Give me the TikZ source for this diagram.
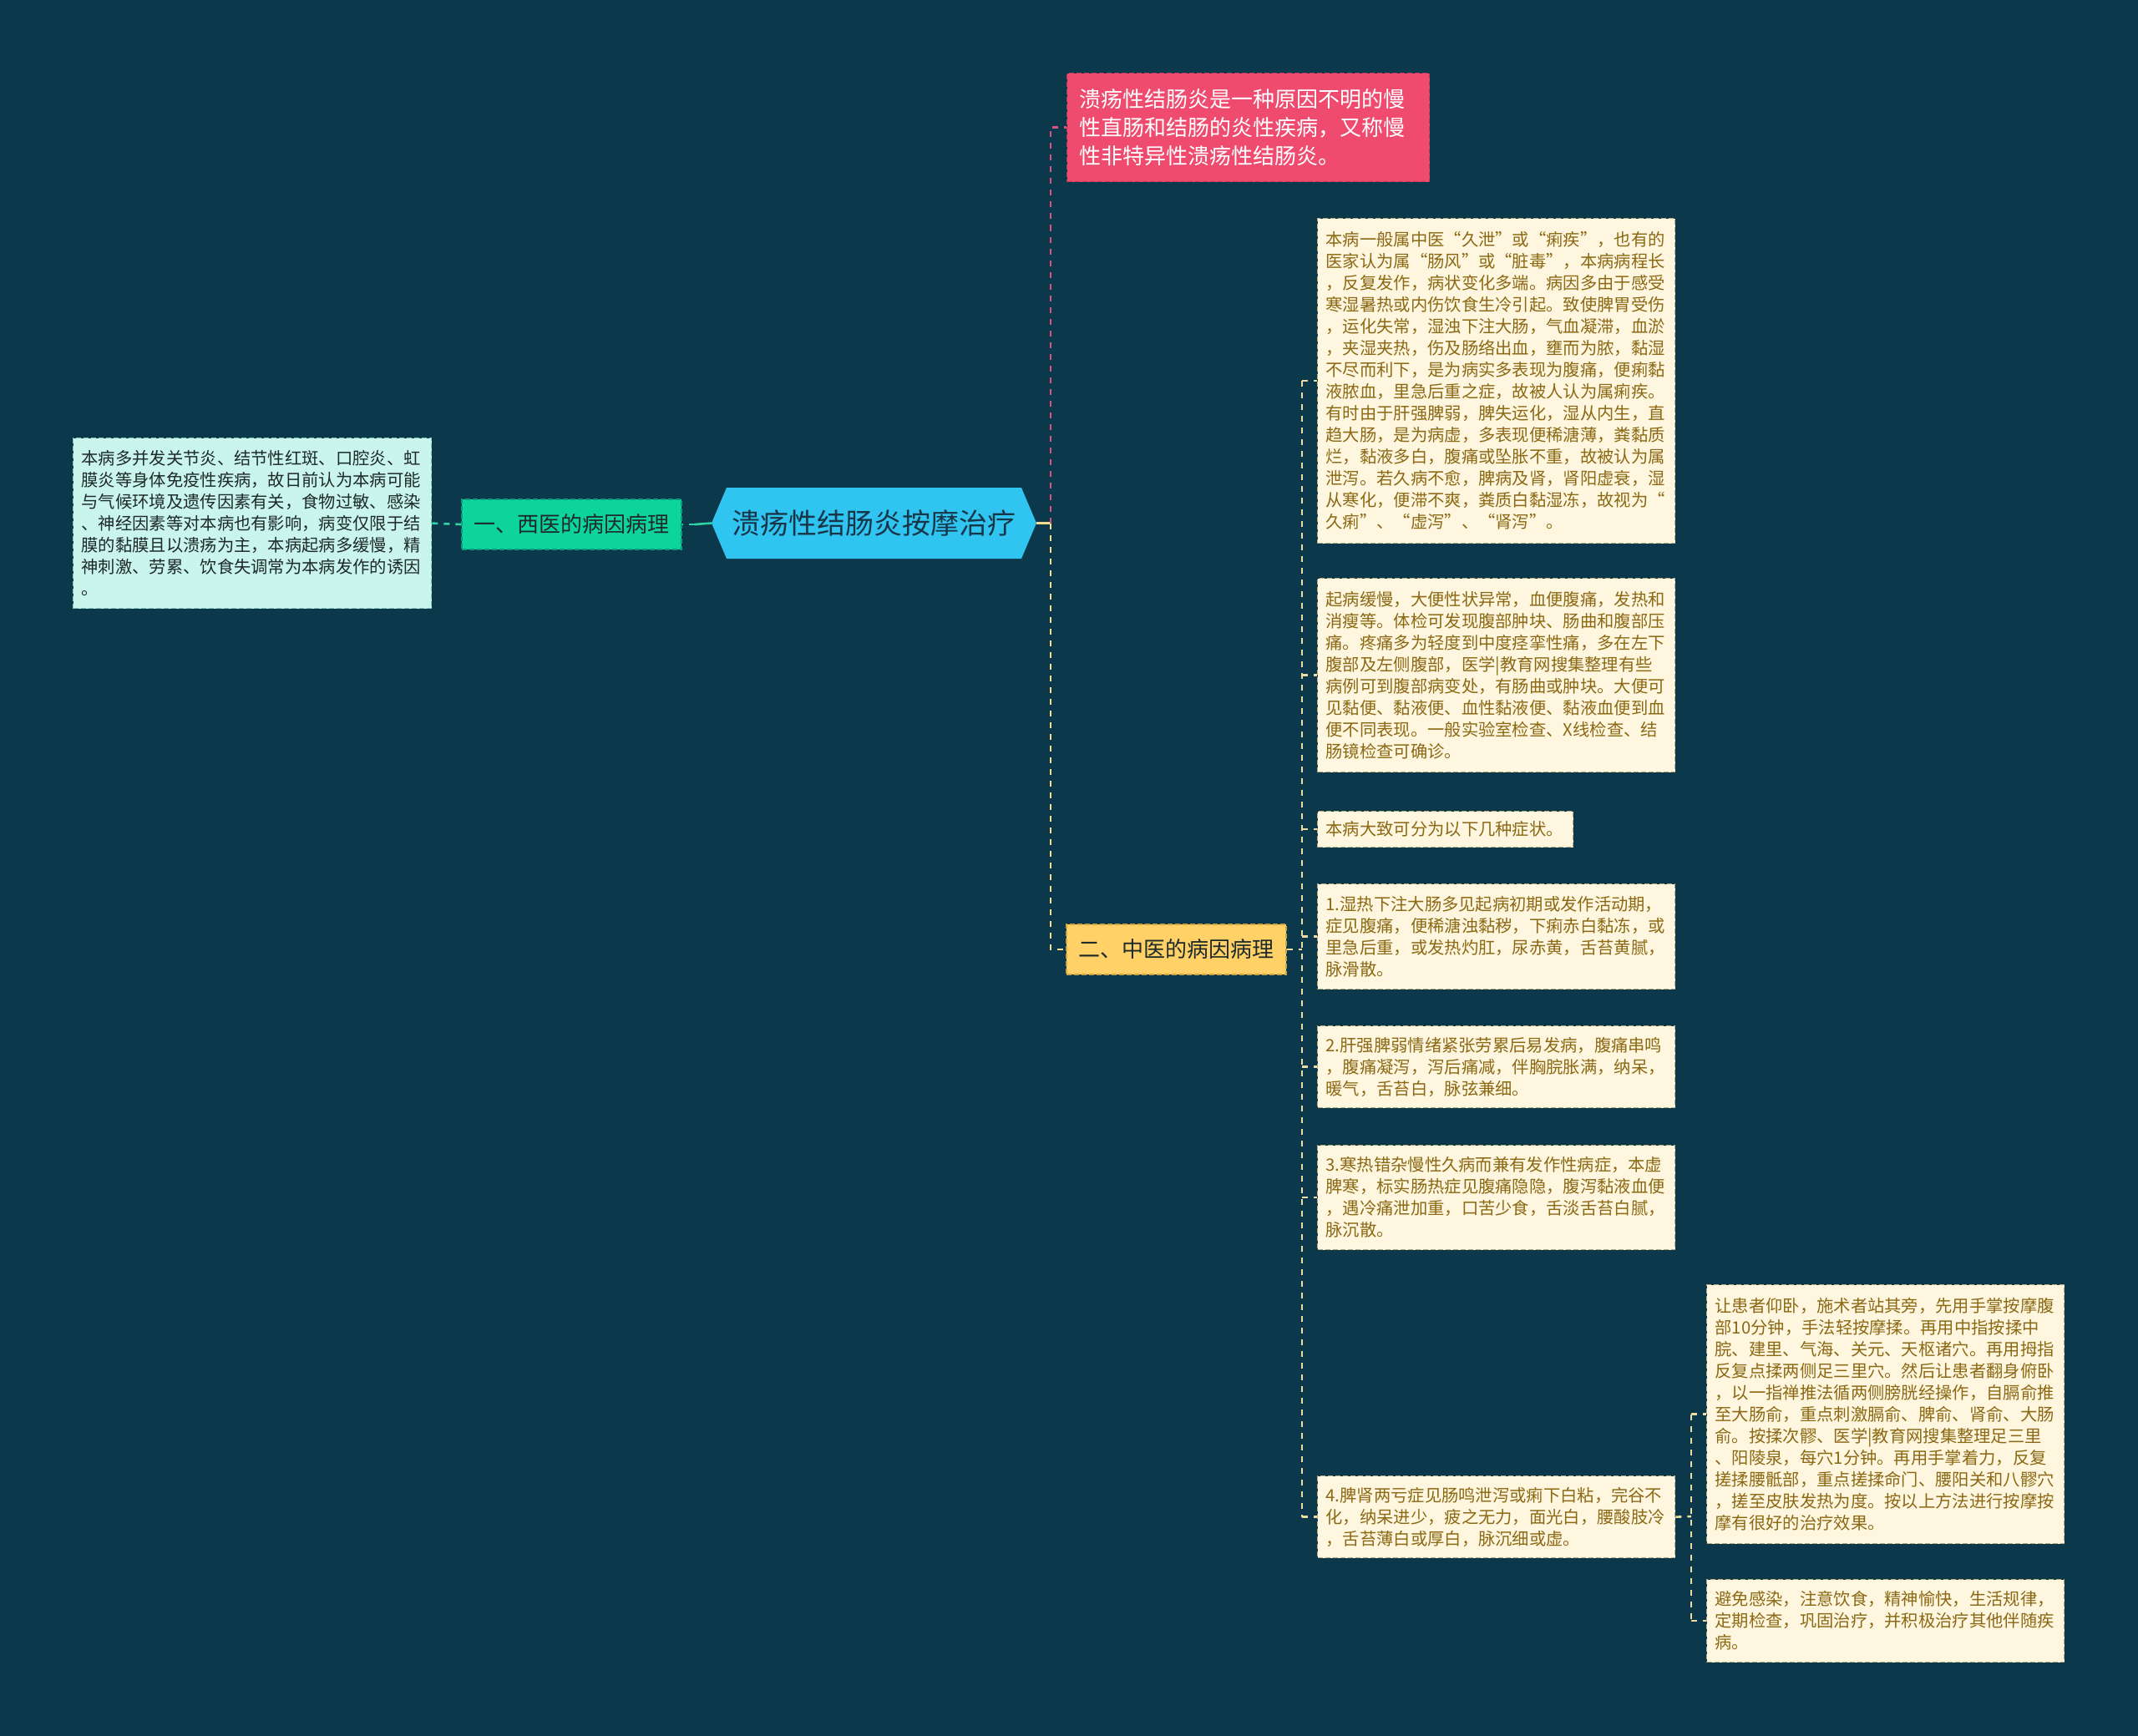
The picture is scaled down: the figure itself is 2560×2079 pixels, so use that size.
\documentclass[tikz,border=0pt]{standalone}
\usepackage{fontspec}
\setmainfont{Noto Sans CJK SC}
\definecolor{bg}{HTML}{0C384C}
\definecolor{pinkfill}{HTML}{EE4B6F}
\definecolor{pinkborder}{HTML}{B8405E}
\definecolor{pinkline}{HTML}{D9557E}
\definecolor{rootfill}{HTML}{30C4F0}
\definecolor{roottext}{HTML}{173649}
\definecolor{greenfill}{HTML}{0DD49C}
\definecolor{greenborder}{HTML}{0A9E78}
\definecolor{greenline}{HTML}{2ED3A6}
\definecolor{mintfill}{HTML}{C9F5EC}
\definecolor{mintborder}{HTML}{86C9BA}
\definecolor{yellowfill}{HTML}{FFD166}
\definecolor{yellowborder}{HTML}{CFA440}
\definecolor{yellowline}{HTML}{F7DC8C}
\definecolor{creamfill}{HTML}{FFF6DF}
\definecolor{creamborder}{HTML}{B9AB82}
\definecolor{creamtext}{HTML}{8B6914}
\definecolor{creamline}{HTML}{EEDDA2}
\definecolor{darktext}{HTML}{1E2A2A}
\tikzset{
  boxbase/.style={rectangle, line width=1.3pt, dash pattern=on 6pt off 3pt, inner ysep=0pt, anchor=north west},
  creambox/.style={boxbase, draw=creamborder, fill=creamfill, text=creamtext,
    font=\fontsize{20.3}{26}\selectfont, align=left, inner xsep=10pt, text width=408pt, minimum height=#1},
  mintbox/.style={boxbase, draw=mintborder, fill=mintfill, text=darktext,
    font=\fontsize{20.3}{26}\selectfont, align=left, inner xsep=10pt, text width=409pt, minimum height=#1},
  pinkbox/.style={boxbase, draw=pinkborder, fill=pinkfill, text=white,
    font=\fontsize{26}{34}\selectfont, align=left, inner xsep=15pt, text width=404pt, minimum height=#1},
  greenbox/.style={rectangle, line width=1.3pt, dash pattern=on 6pt off 3pt, draw=greenborder, fill=greenfill, text=darktext,
    font=\fontsize{26}{32}\selectfont, minimum width=263pt, minimum height=60pt, inner sep=0pt},
  yellowbox/.style={rectangle, line width=1.3pt, dash pattern=on 6pt off 3pt, draw=yellowborder, fill=yellowfill, text=darktext,
    font=\fontsize{26}{32}\selectfont, minimum width=263pt, minimum height=60pt, inner sep=0pt},
  rootnode/.style={rectangle, text=roottext, font=\fontsize{34}{40}\selectfont, minimum width=389pt, minimum height=85pt, inner sep=0pt},
  conn/.style={line width=2.6pt, dash pattern=on 7pt off 7pt},
}
\begin{document}
\begin{tikzpicture}[x=1pt,y=-1pt]
\fill[bg] (0,0) rectangle (2560,2079);
\path[use as bounding box] (0,0) rectangle (2560,2079);

% root hexagon
\fill[rootfill] (852,626.5) -- (870,584) -- (1223,584) -- (1241,626.5) -- (1223,669) -- (870,669) -- cycle;
\node[rootnode] (root) at (1046.5,626.5) {溃疡性结肠炎按摩治疗};

% left branch
\node[greenbox] (west) at (684.5,628) {一、西医的病因病理};
\node[mintbox=204] (wdesc) at (87,524) {本病多并发关节炎、结节性红斑、口腔炎、虹\\膜炎等身体免疫性疾病，故日前认为本病可能\\与气候环境及遗传因素有关，食物过敏、感染\\、神经因素等对本病也有影响，病变仅限于结\\膜的黏膜且以溃疡为主，本病起病多缓慢，精\\神刺激、劳累、饮食失调常为本病发作的诱因\\。};

% right top
\node[pinkbox=130] (def) at (1277,87) {溃疡性结肠炎是一种原因不明的慢\\性直肠和结肠的炎性疾病，又称慢\\性非特异性溃疡性结肠炎。};
\node[yellowbox] (tcm) at (1408.5,1137) {二、中医的病因病理};

% cream boxes
\node[creambox=389] (ca) at (1577,261) {本病一般属中医“久泄”或“痢疾”，也有的\\医家认为属“肠风”或“脏毒”，本病病程长\\，反复发作，病状变化多端。病因多由于感受\\寒湿暑热或内伤饮食生冷引起。致使脾胃受伤\\，运化失常，湿浊下注大肠，气血凝滞，血淤\\，夹湿夹热，伤及肠络出血，壅而为脓，黏湿\\不尽而利下，是为病实多表现为腹痛，便痢黏\\液脓血，里急后重之症，故被人认为属痢疾。\\有时由于肝强脾弱，脾失运化，湿从内生，直\\趋大肠，是为病虚，多表现便稀溏薄，粪黏质\\烂，黏液多白，腹痛或坠胀不重，故被认为属\\泄泻。若久病不愈，脾病及肾，肾阳虚衰，湿\\从寒化，便滞不爽，粪质白黏湿冻，故视为“\\久痢”、“虚泻”、“肾泻”。};
\node[creambox=232] (cb) at (1577,692) {起病缓慢，大便性状异常，血便腹痛，发热和\\消瘦等。体检可发现腹部肿块、肠曲和腹部压\\痛。疼痛多为轻度到中度痉挛性痛，多在左下\\腹部及左侧腹部，医学|教育网搜集整理有些\\病例可到腹部病变处，有肠曲或肿块。大便可\\见黏便、黏液便、血性黏液便、黏液血便到血\\便不同表现。一般实验室检查、X线检查、结\\肠镜检查可确诊。};
\node[creambox=43, text width=286pt] (cc) at (1577,971) {本病大致可分为以下几种症状。};
\node[creambox=126] (cd) at (1577,1058) {1.湿热下注大肠多见起病初期或发作活动期，\\症见腹痛，便稀溏浊黏秽，下痢赤白黏冻，或\\里急后重，或发热灼肛，尿赤黄，舌苔黄腻，\\脉滑散。};
\node[creambox=98] (ce) at (1577,1228) {2.肝强脾弱情绪紧张劳累后易发病，腹痛串鸣\\，腹痛凝泻，泻后痛减，伴胸脘胀满，纳呆，\\暖气，舌苔白，脉弦兼细。};
\node[creambox=125] (cf) at (1577,1371) {3.寒热错杂慢性久病而兼有发作性病症，本虚\\脾寒，标实肠热症见腹痛隐隐，腹泻黏液血便\\，遇冷痛泄加重，口苦少食，舌淡舌苔白腻，\\脉沉散。};
\node[creambox=98] (cg) at (1577,1767) {4.脾肾两亏症见肠鸣泄泻或痢下白粘，完谷不\\化，纳呆进少，疲之无力，面光白，腰酸肢冷\\，舌苔薄白或厚白，脉沉细或虚。};
\node[creambox=310] (ch) at (2043,1538) {让患者仰卧，施术者站其旁，先用手掌按摩腹\\部10分钟，手法轻按摩揉。再用中指按揉中\\脘、建里、气海、关元、天枢诸穴。再用拇指\\反复点揉两侧足三里穴。然后让患者翻身俯卧\\，以一指禅推法循两侧膀胱经操作，自膈俞推\\至大肠俞，重点刺激膈俞、脾俞、肾俞、大肠\\俞。按揉次髎、医学|教育网搜集整理足三里\\、阳陵泉，每穴1分钟。再用手掌着力，反复\\搓揉腰骶部，重点搓揉命门、腰阳关和八髎穴\\，搓至皮肤发热为度。按以上方法进行按摩按\\摩有很好的治疗效果。};
\node[creambox=99] (ci) at (2043,1891) {避免感染，注意饮食，精神愉快，生活规律，\\定期检查，巩固治疗，并积极治疗其他伴随疾\\病。};

% connectors: root
\coordinate (rj) at (1258,626.5);
\draw[yellowline, line width=2.6pt] (root.east) -- (rj);
\draw[pinkline, conn] (rj) |- (def.west);
\draw[yellowline, conn] (rj) |- (tcm.west);

% connectors: left
\coordinate (lj) at (832,628);
\draw[greenline, line width=2.6pt] (root.west) -- (lj);
\draw[greenline, conn] (lj) -- (west.east);
\draw[greenline, conn] (west.west) -- (wdesc.east);

% connectors: tcm children
\coordinate (tj) at (1559,1137);
\draw[creamline, conn] (tcm.east) -- (tj);
\draw[creamline, conn] (tj |- ca.west) -- (tj |- cg.west);
\foreach \b in {ca,cb,cc,cd,ce,cf,cg}{
  \draw[creamline, conn] (tj |- \b.west) -- (\b.west);
}

% connectors: cg children
\coordinate (gj) at (2025,1816);
\draw[creamline, conn] (cg.east) -- (gj);
\draw[creamline, conn] (gj |- ch.west) -- (gj |- ci.west);
\draw[creamline, conn] (gj |- ch.west) -- (ch.west);
\draw[creamline, conn] (gj |- ci.west) -- (ci.west);
\end{tikzpicture}
\end{document}
